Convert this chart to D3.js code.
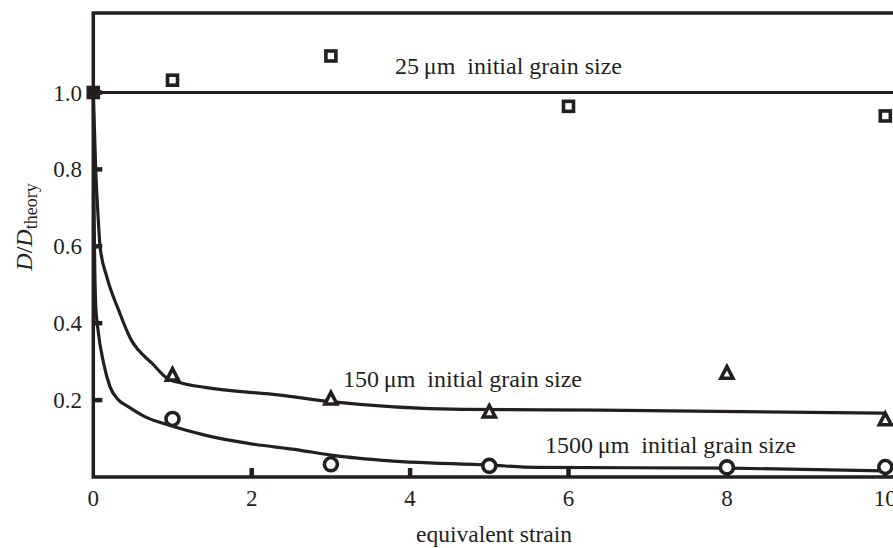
<!DOCTYPE html>
<html>
<head>
<meta charset="utf-8">
<script src="https://cdn.jsdelivr.net/npm/d3@7"></script>
<style>
  body { margin: 0; background: #fff; }
  svg { display: block; }
  text { font-family: "Liberation Serif", "DejaVu Serif", serif; fill: #231f20; }
</style>
</head>
<body>
<svg width="893" height="548"></svg>
<script>
// measured points for the three initial grain sizes
var strain = [0, 1, 3, 6, 10];
var fine = [1.0, 1.032, 1.095, 0.964, 0.939];          // 25 um

var strainMid = [1, 3, 5, 8, 10];
var medium = [0.265, 0.203, 0.169, 0.27, 0.149];       // 150 um

var strainCoarse = [1, 3, 5, 8, 10];
var coarse = [0.151, 0.033, 0.029, 0.025, 0.026];      // 1500 um

// fitted curves
var fitMedX = [0, 0.03, 0.06, 0.085, 0.17, 0.32, 0.48, 0.57, 0.74, 0.93, 1.12, 1.41, 2.36, 3.0, 4.67, 6.4, 10];
var fitMedY = [1.0, 0.8, 0.68, 0.6, 0.521, 0.434, 0.356, 0.33, 0.296, 0.257, 0.244, 0.233, 0.213, 0.196, 0.176, 0.174, 0.166];

var fitCoarseX = [0, 0.01, 0.03, 0.06, 0.13, 0.21, 0.32, 0.44, 0.65, 0.95, 1.41, 1.94, 2.6, 3.0, 3.62, 5.0, 5.6, 8.04, 10];
var fitCoarseY = [1.0, 0.7, 0.45, 0.382, 0.296, 0.235, 0.2, 0.183, 0.157, 0.135, 0.109, 0.088, 0.07, 0.057, 0.044, 0.031, 0.025, 0.023, 0.016];

var fitFineX = [0, 10.2];
var fitFineY = [1.0, 1.0];

var xTicks = [0, 2, 4, 6, 8, 10];
var yTicks = [0.2, 0.4, 0.6, 0.8, 1.0];

var svg = d3.select("svg"),
  width = +svg.attr("width"),
  height = +svg.attr("height"),
  ink = "#231f20";

var x = d3.scaleLinear().domain([0, 10]).range([93.3, 885.3]);
var y = d3.scaleLinear().domain([0, 1]).range([477, 92.5]);
var frameTop = 13;

var g = svg.append("g");

// frame: left + top + bottom (right side runs off the page)
g.append("path")
  .attr("d", "M" + (width + 10) + "," + frameTop + "H" + x(0) + "V" + y(0) + "H" + (width + 10))
  .attr("fill", "none")
  .attr("stroke", ink)
  .attr("stroke-width", 3.5);

// inward ticks
g.selectAll(".xt")
  .data(xTicks.slice(1))
  .enter().append("line")
  .attr("x1", function(d) { return x(d); })
  .attr("x2", function(d) { return x(d); })
  .attr("y1", y(0))
  .attr("y2", y(0) - 9)
  .attr("stroke", ink)
  .attr("stroke-width", 4.5);

g.selectAll(".yt")
  .data(yTicks)
  .enter().append("line")
  .attr("x1", x(0))
  .attr("x2", x(0) + 9)
  .attr("y1", function(d) { return y(d); })
  .attr("y2", function(d) { return y(d); })
  .attr("stroke", ink)
  .attr("stroke-width", 4.5);

g.selectAll(".xl")
  .data(xTicks)
  .enter().append("text")
  .attr("x", function(d) { return x(d); })
  .attr("y", 506)
  .attr("text-anchor", "middle")
  .attr("font-size", 23)
  .text(function(d) { return d; });

g.selectAll(".yl")
  .data(yTicks)
  .enter().append("text")
  .attr("x", 82)
  .attr("y", function(d) { return y(d); })
  .attr("dy", "0.35em")
  .attr("text-anchor", "end")
  .attr("font-size", 23)
  .text(function(d) { return d3.format(".1f")(d); });

// axis titles
svg.append("text")
  .attr("x", 494)
  .attr("y", 542)
  .attr("text-anchor", "middle")
  .attr("font-size", 23.5)
  .text("equivalent strain");

var yl = svg.append("text")
  .attr("transform", "translate(32,227) rotate(-90)")
  .attr("text-anchor", "middle")
  .attr("font-size", 24);
yl.append("tspan").attr("font-style", "italic").text("D");
yl.append("tspan").text("/");
yl.append("tspan").attr("font-style", "italic").text("D");
yl.append("tspan").attr("font-size", 18).attr("dy", 5).text("theory");

// fitted lines
var line = d3.line()
  .x(function(d) { return x(d[0]); })
  .y(function(d) { return y(d[1]); })
  .curve(d3.curveMonotoneX);

[[fitFineX, fitFineY], [fitMedX, fitMedY], [fitCoarseX, fitCoarseY]].forEach(function(f) {
  g.append("path")
    .datum(d3.zip(f[0], f[1]))
    .attr("d", line)
    .attr("fill", "none")
    .attr("stroke", ink)
    .attr("stroke-width", 3.2)
    .attr("stroke-linejoin", "round");
});

// markers
g.selectAll(".sq")
  .data(d3.zip(strain, fine))
  .enter().append("rect")
  .attr("x", function(d) { return x(d[0]) - 5; })
  .attr("y", function(d) { return y(d[1]) - 5; })
  .attr("width", 10)
  .attr("height", 10)
  .attr("fill", function(d, i) { return i === 0 ? ink : "#fff"; })
  .attr("stroke", ink)
  .attr("stroke-width", 3.6);

g.selectAll(".tri")
  .data(d3.zip(strainMid, medium))
  .enter().append("path")
  .attr("transform", function(d) { return "translate(" + x(d[0]) + "," + y(d[1]) + ")"; })
  .attr("d", "M0,-6.5L6,5L-6,5Z")
  .attr("fill", "#fff")
  .attr("stroke", ink)
  .attr("stroke-width", 3.6)
  .attr("stroke-linejoin", "miter");

g.selectAll(".cir")
  .data(d3.zip(strainCoarse, coarse))
  .enter().append("circle")
  .attr("cx", function(d) { return x(d[0]); })
  .attr("cy", function(d) { return y(d[1]); })
  .attr("r", 6.5)
  .attr("fill", "#fff")
  .attr("stroke", ink)
  .attr("stroke-width", 3.6);

// series labels
var labels = [
  { t: "25", x: 395, y: 74 },
  { t: "150", x: 343, y: 387 },
  { t: "1500", x: 545, y: 453 }
];
labels.forEach(function(l) {
  svg.append("text")
    .attr("x", l.x)
    .attr("y", l.y)
    .attr("font-size", 24)
    .attr("xml:space", "preserve")
    .text(l.t + "\u2009\u03bcm  initial grain size");
});
</script>
</body>
</html>
